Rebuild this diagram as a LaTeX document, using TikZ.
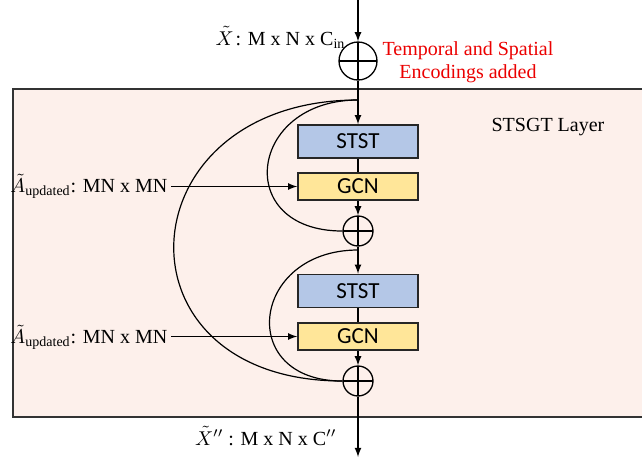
\documentclass[tikz,border=0pt]{standalone}
\usepackage{amsmath}
\usepackage{fontspec}
\setmainfont{Liberation Serif}
\newfontfamily\boxfont{Carlito}
\usepackage{tikz}
\usetikzlibrary{calc}
\usetikzlibrary{positioning}

\definecolor{ststblue}{RGB}{180,199,231}
\definecolor{gcnyellow}{RGB}{255,230,153}
\definecolor{layerpink}{RGB}{253,240,235}
\definecolor{encred}{RGB}{235,0,0}

\tikzset{
	block/.style={rectangle, draw=black!85, line width=0.75pt, minimum width=60pt, inner sep=0pt, font=\boxfont\fontsize{11.5}{13}\selectfont},
	ststbox/.style={block, fill=ststblue, minimum height=16.5pt},
	gcnbox/.style={block, fill=gcnyellow, minimum height=13.5pt},
	addnode/.style={circle, draw, line width=0.65pt, inner sep=0pt, minimum size=15pt,
		path picture={\draw[line width=0.65pt] (path picture bounding box.north) -- (path picture bounding box.south) (path picture bounding box.west) -- (path picture bounding box.east);}},
	lbl/.style={font=\fontsize{10}{11.5}\selectfont, inner sep=0pt},
}

\begin{document}
\begin{tikzpicture}[x=0.5pt, y=-0.5pt, >=latex, line width=0.6pt]

\useasboundingbox (0,0) rectangle (642,457);

% layer frame (open on the right)
\fill[layerpink] (13,89) rectangle (642,417);
\draw[line width=1pt, black!80] (642,89) -- (13,89) -- (13,417) -- (642,417);
\node at (548,127) [lbl] (layername) {STSGT Layer};

% input + encodings
\coordinate (xin) at (358,0);
\node at (358,61) [addnode, minimum size=19pt] (enc) {};
\node at (346,45) [lbl, anchor=base east] (xinlbl) {$\tilde{X}$\kern1pt: M x N x C\textsubscript{in}};
\node at (468,62) [lbl, align=center, text=encred] (enclbl) {Temporal and Spatial\\Encodings added};

% first block
\coordinate (split1) at (358,100);
\node at (358,141.5) [ststbox] (stst1) {STST};
\node at (358,186.5) [gcnbox] (gcn1) {GCN};
\node at (358,231) [addnode] (add1) {};
\node at (171,186) [lbl, anchor=east, inner xsep=1.5pt] (adj1) {$\tilde{A}_{\text{updated}}$: MN x MN};

% second block
\coordinate (split2) at (358,250);
\node at (358,291) [ststbox] (stst2) {STST};
\node at (358,336.5) [gcnbox] (gcn2) {GCN};
\node at (358,381) [addnode] (add2) {};
\node at (171,337) [lbl, anchor=east, inner xsep=1.5pt] (adj2) {$\tilde{A}_{\text{updated}}$: MN x MN};

% output
\coordinate (xout) at (358,457);
\node at (337,445) [lbl, anchor=base east] (xoutlbl) {$\tilde{X}^{\prime\prime}$ : M x N x C$^{\prime\prime}$};

\draw[->] (xin) -- (enc.north);
\draw (enc.south) -- (split1);
\draw[->] (split1) -- (stst1.north);
\draw (stst1) -- (gcn1);
\draw[->] (gcn1) -- (add1);
\draw[->] (adj1.east |- gcn1) -- (gcn1.west);
\draw (split1) .. controls +(-110,0) and +(-110,0) .. (add1.west);
\draw (split1) .. controls +(-235,0) and +(-235,0) .. (add2.west);

\draw (add1.south) -- (split2);
\draw[->] (split2) -- (stst2.north);
\draw (stst2) -- (gcn2);
\draw[->] (gcn2) -- (add2);
\draw[->] (adj2.east |- gcn2) -- (gcn2.west);
\draw (split2) .. controls +(-107,0) and +(-107,0) .. (add2.west);
\draw[->] (add2.south) -- (xout);

\end{tikzpicture}
\end{document}
